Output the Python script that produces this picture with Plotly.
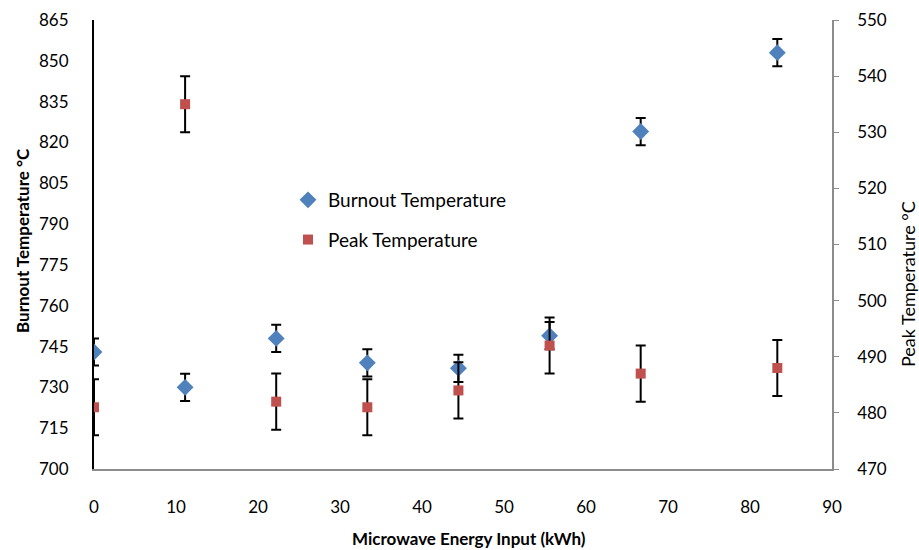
import plotly.graph_objects as go

energy = [0, 11.11, 22.22, 33.33, 44.44, 55.56, 66.67, 83.33]
burnout = [743, 730, 748, 739, 737, 749, 824, 853]
burnout_err = [5, 5, 5, 5, 5, 5, 5, 5]
peak = [481, 535, 482, 481, 484, 492, 487, 488]
peak_err = [5, 5, 5, 5, 5, 5, 5, 5]

left_ticks = list(range(700, 866, 15))
right_ticks = list(range(470, 551, 10))
x_ticks = list(range(0, 91, 10))

FONT = "Lato"
L, R, T, B = 94, 87, 20, 81
W, H = 919, 550
pw, ph = W - L - R, H - T - B


def px(x):
    return (x - L) / pw


def py(y):
    return (H - B - y) / ph


fig = go.Figure()
fig.add_trace(go.Scatter(
    x=energy, y=burnout, mode="markers", name="Burnout Temperature",
    marker=dict(symbol="diamond", size=13, color="#4F81BD"),
    error_y=dict(type="data", array=burnout_err, color="black", thickness=2, width=5),
    legendgroup="a", yaxis="y"))
fig.add_trace(go.Scatter(
    x=energy, y=peak, mode="markers", name="Peak Temperature",
    marker=dict(symbol="square", size=10, color="#C0504D"),
    error_y=dict(type="data", array=peak_err, color="black", thickness=2, width=5),
    legendgroup="b", yaxis="y2"))

fig.update_layout(
    width=W, height=H,
    margin=dict(l=L, r=R, t=T, b=B, autoexpand=False),
    plot_bgcolor="white", paper_bgcolor="white",
    font=dict(family=FONT, size=17, color="black"),
    showlegend=True,
    legend=dict(x=px(288), y=py(181), xanchor="left", yanchor="top",
                bgcolor="rgba(0,0,0,0)", font=dict(size=19),
                tracegroupgap=12, itemwidth=30),
    xaxis=dict(range=[0, 90], tickvals=x_ticks, showgrid=False, zeroline=False,
               showline=True, linecolor="#8c8c8c", linewidth=1.5, automargin=False,
               ticks="", tickfont=dict(size=17), ticklabelstandoff=22),
    yaxis=dict(range=[700, 865], tickvals=left_ticks, showgrid=False, zeroline=False,
               showline=True, linecolor="black", linewidth=2, ticks="", automargin=False,
               tickfont=dict(size=17), ticklabelstandoff=20),
    yaxis2=dict(range=[470, 550], tickvals=right_ticks, overlaying="y", side="right",
                showgrid=False, zeroline=False, showline=True, linecolor="#8c8c8c",
                linewidth=1.5, ticks="outside", ticklen=5, tickcolor="#8c8c8c",
                automargin=False, tickfont=dict(size=17), ticklabelstandoff=15),
    annotations=[
        dict(text="<b>Burnout Temperature °C</b>", x=px(22), y=py(241), xref="paper", yref="paper",
             showarrow=False, textangle=-90, font=dict(size=17), xanchor="center", yanchor="middle"),
        dict(text="Peak Temperature °C", x=px(908), y=py(284), xref="paper", yref="paper",
             showarrow=False, textangle=-90, font=dict(size=18), xanchor="center", yanchor="middle"),
        dict(text="<b>Microwave Energy Input (kWh)</b>", x=px(469), y=py(538), xref="paper", yref="paper",
             showarrow=False, font=dict(size=17), xanchor="center", yanchor="middle"),
    ],
)

fig.write_html("out.html", config={"displayModeBar": False},
               post_script="document.body.style.margin='0';document.body.style.padding='0';")
